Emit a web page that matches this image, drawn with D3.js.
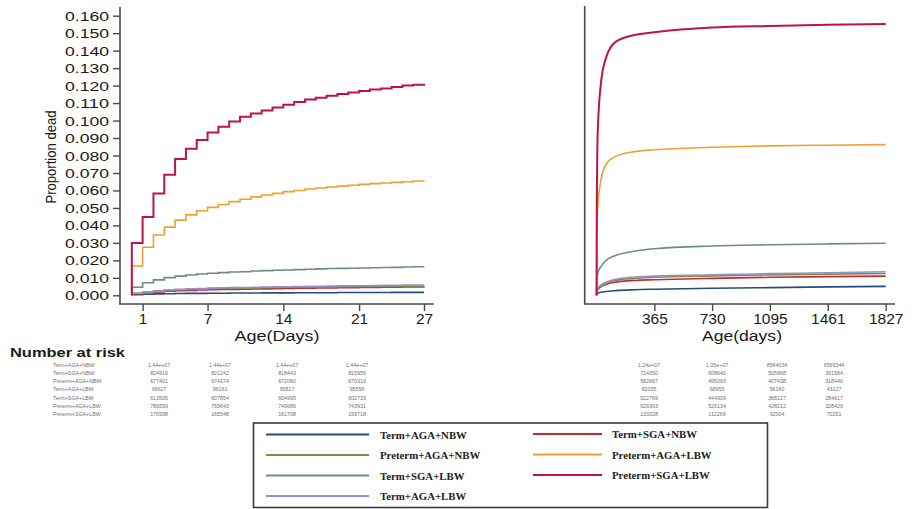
<!DOCTYPE html>
<html>
<head>
<meta charset="utf-8">
<script src="https://cdn.jsdelivr.net/npm/d3@7"></script>
<style>
  html, body { margin: 0; padding: 0; background: #fff; }
  svg { display: block; }
</style>
</head>
<body>
<svg id="chart" width="912" height="509" font-family="'Liberation Sans', Arial, sans-serif"></svg>
<script>
// Cumulative proportion dead by birth group: neonatal period (days 0-27) and under-five (days 0-1827)
const groups = ["Term+AGA+NBW", "Term+SGA+NBW", "Preterm+AGA+NBW", "Term+AGA+LBW",
                "Term+SGA+LBW", "Preterm+AGA+LBW", "Preterm+SGA+LBW"];
const groupColors = ["#264d78", "#c22c38", "#7b8f3e", "#958fd0", "#6f8a88", "#f0a02c", "#c0124a"];

// Daily step values, day 0 .. day 27
const neoDays = d3.range(0, 28);
const neoTermAgaNbw    = [0.0004,0.0006,0.0008,0.0009,0.0010,0.0011,0.0011,0.0012,0.0012,0.0013,0.0013,0.0013,0.0014,0.0014,0.0014,0.0015,0.0015,0.0015,0.0015,0.0016,0.0016,0.0016,0.0016,0.0016,0.0017,0.0017,0.0017,0.0017];
const neoTermSgaNbw    = [0.0009,0.0015,0.0019,0.0023,0.0026,0.0028,0.0030,0.0032,0.0033,0.0034,0.0035,0.0036,0.0037,0.0038,0.0039,0.0040,0.0041,0.0042,0.0042,0.0043,0.0044,0.0045,0.0045,0.0046,0.0047,0.0048,0.0048,0.0049];
const neoPretAgaNbw    = [0.0011,0.0018,0.0024,0.0028,0.0032,0.0035,0.0037,0.0039,0.0040,0.0041,0.0042,0.0043,0.0044,0.0045,0.0046,0.0046,0.0047,0.0048,0.0048,0.0049,0.0049,0.0050,0.0050,0.0051,0.0051,0.0052,0.0052,0.0052];
const neoTermAgaLbw    = [0.0012,0.0019,0.0025,0.0030,0.0034,0.0037,0.0039,0.0041,0.0043,0.0044,0.0045,0.0046,0.0047,0.0048,0.0049,0.0050,0.0051,0.0052,0.0053,0.0054,0.0055,0.0055,0.0056,0.0057,0.0057,0.0058,0.0058,0.0059];
const neoTermSgaLbw    = [0.0046,0.0072,0.0088,0.0101,0.0110,0.0116,0.0122,0.0126,0.0130,0.0133,0.0135,0.0139,0.0141,0.0143,0.0145,0.0147,0.0149,0.0151,0.0153,0.0154,0.0155,0.0156,0.0158,0.0159,0.0160,0.0162,0.0163,0.0164];
const neoPretAgaLbw    = [0.0168,0.0275,0.0345,0.0390,0.0430,0.0460,0.0484,0.0503,0.0520,0.0536,0.0550,0.0563,0.0574,0.0583,0.0593,0.0600,0.0608,0.0614,0.0620,0.0625,0.0630,0.0635,0.0639,0.0643,0.0646,0.0650,0.0654,0.0656];
const neoPretSgaLbw    = [0.0300,0.0448,0.0583,0.0690,0.0780,0.0839,0.0889,0.0932,0.0965,0.0995,0.1022,0.1041,0.1058,0.1075,0.1090,0.1106,0.1120,0.1130,0.1142,0.1152,0.1160,0.1169,0.1177,0.1184,0.1192,0.1200,0.1205,0.1210];

// Under-five curves, sampled days
const longDays = [0, 1, 7, 27, 60, 120, 240, 365, 730, 1095, 1461, 1827];
const longTermAgaNbw = [0, 0.0006, 0.0012, 0.0017, 0.0022, 0.0027, 0.0032, 0.0035, 0.0040, 0.0044, 0.0048, 0.0051];
const longTermSgaNbw = [0, 0.0015, 0.0032, 0.0049, 0.0062, 0.0075, 0.0085, 0.0089, 0.0097, 0.0103, 0.0107, 0.0110];
const longPretAgaNbw = [0, 0.0018, 0.0039, 0.0052, 0.0068, 0.0085, 0.0097, 0.0103, 0.0111, 0.0117, 0.0121, 0.0125];
const longTermAgaLbw = [0, 0.0019, 0.0041, 0.0059, 0.0075, 0.0092, 0.0105, 0.0110, 0.0118, 0.0124, 0.0129, 0.0135];
const longTermSgaLbw = [0, 0.0072, 0.0126, 0.0164, 0.0200, 0.0228, 0.0252, 0.0266, 0.0282, 0.0289, 0.0294, 0.0298];
const longPretAgaLbw = [0, 0.0275, 0.0503, 0.0656, 0.0750, 0.0795, 0.0822, 0.0833, 0.0847, 0.0855, 0.0859, 0.0862];
const longPretSgaLbw = [0, 0.0448, 0.0932, 0.1210, 0.1360, 0.1450, 0.1490, 0.1505, 0.1532, 0.1541, 0.1548, 0.1553];

const neoSeries  = [neoTermAgaNbw, neoTermSgaNbw, neoPretAgaNbw, neoTermAgaLbw, neoTermSgaLbw, neoPretAgaLbw, neoPretSgaLbw];
const longSeries = [longTermAgaNbw, longTermSgaNbw, longPretAgaNbw, longTermAgaLbw, longTermSgaLbw, longPretAgaLbw, longPretSgaLbw];

// Axis ticks
const yTicks = [0, 0.01, 0.02, 0.03, 0.04, 0.05, 0.06, 0.07, 0.08, 0.09, 0.10, 0.11, 0.12, 0.13, 0.14, 0.15, 0.16];
const neoTicks = [1, 7, 14, 21, 27];
const longTicks = [365, 730, 1095, 1461, 1827];

// Number at risk tables
const riskLabels = ["Term+AGA+NBW", "Term+SGA+NBW", "Preterm+AGA+NBW", "Term+AGA+LBW",
                    "Term+SGA+LBW", "Preterm+AGA+LBW", "Preterm+SGA+LBW"];
const riskNeo = [
  ["1.44e+07", "1.44e+07", "1.44e+07", "1.44e+07"],
  ["824916", "821242", "818443", "815955"],
  ["677401", "674174", "672060", "670319"],
  ["96627", "96161", "95817", "95556"],
  ["613595", "607854", "604995", "602733"],
  ["786559", "759643", "749686", "743931"],
  ["176598", "165548", "161708", "159718"]
];
const riskLong = [
  ["1.24e+07", "1.05e+07", "8564034", "6569344"],
  ["714350", "608640", "505968", "391584"],
  ["582667", "495093", "407438", "318446"],
  ["82035", "68955", "56160", "43127"],
  ["522769", "444909", "368127", "284617"],
  ["629393", "526134", "428212", "328429"],
  ["133328", "112269", "92004", "70251"]
];

// Legend layout: two columns
const legendCol1 = ["Term+AGA+NBW", "Preterm+AGA+NBW", "Term+SGA+LBW", "Term+AGA+LBW"];
const legendCol2 = ["Term+SGA+NBW", "Preterm+AGA+LBW", "Preterm+SGA+LBW"];

const svg = d3.select("#chart");
const colorOf = d3.scaleOrdinal().domain(groups).range(groupColors);
const axisColor = "#4a4a4a";
const sans = "'Liberation Sans', Arial, sans-serif";
const serif = "'Liberation Serif', 'Times New Roman', serif";

// Scales
const y = d3.scaleLinear().domain([0, 0.16]).range([295.3, 15.7]);
const xNeo = d3.scaleLinear().domain([0, 27]).range([131.8, 424]);
const xLong = d3.scaleLinear().domain([0, 1827]).range([596.6, 885.7]);

function stretch(sel, w) {
  sel.attr("textLength", w).attr("lengthAdjust", "spacingAndGlyphs");
}

// ---------- Left panel: neonatal ----------
const left = svg.append("g");
left.append("line").attr("x1", 120).attr("x2", 120).attr("y1", 7).attr("y2", 304.5)
  .attr("stroke", axisColor).attr("stroke-width", 1.6);
left.append("line").attr("x1", 119.2).attr("x2", 434).attr("y1", 304).attr("y2", 304)
  .attr("stroke", axisColor).attr("stroke-width", 1.6);

const yAxisL = left.append("g").attr("transform", "translate(120,0)")
  .call(d3.axisLeft(y).tickValues(yTicks).tickSize(7).tickSizeOuter(0).tickFormat(d3.format(".3f")));
yAxisL.attr("font-family", sans);
yAxisL.select(".domain").remove();
yAxisL.selectAll(".tick line").attr("stroke", axisColor).attr("stroke-width", 1.4);
yAxisL.selectAll(".tick text").attr("x", -11).attr("dy", "0.36em")
  .attr("font-size", 12.5).attr("fill", "#1a1a1a")
  .call(stretch, 44);

const xAxisL = left.append("g").attr("transform", "translate(0,304)")
  .call(d3.axisBottom(xNeo).tickValues(neoTicks).tickSize(7).tickSizeOuter(0));
xAxisL.attr("font-family", sans);
xAxisL.select(".domain").remove();
xAxisL.selectAll(".tick line").attr("stroke", axisColor).attr("stroke-width", 1.4);
xAxisL.selectAll(".tick text").attr("y", 8.5).attr("font-size", 15.5).attr("fill", "#1a1a1a");

left.append("text").attr("x", 277).attr("y", 341).attr("text-anchor", "middle")
  .attr("font-size", 15.5).attr("fill", "#1a1a1a").text("Age(Days)").call(stretch, 85);

left.append("text")
  .attr("transform", "translate(56,157) rotate(-90)")
  .attr("text-anchor", "middle").attr("font-size", 14.5).attr("fill", "#1a1a1a")
  .text("Proportion dead").call(stretch, 93);

// step curves (jump from zero at day 0)
const stepLine = d3.line().x(d => xNeo(d[0])).y(d => y(d[1])).curve(d3.curveStepAfter);
neoSeries.forEach((vals, i) => {
  const pts = [[0, 0]].concat(neoDays.map((d, k) => [d, vals[k]]));
  left.append("path").attr("d", stepLine(pts)).attr("fill", "none")
    .attr("stroke", colorOf(groups[i])).attr("stroke-width", i === 6 ? 2 : 1.6);
});

// ---------- Right panel: under five ----------
const right = svg.append("g");
right.append("line").attr("x1", 584.7).attr("x2", 584.7).attr("y1", 6).attr("y2", 304.5)
  .attr("stroke", axisColor).attr("stroke-width", 1.6);
right.append("line").attr("x1", 584).attr("x2", 895).attr("y1", 304).attr("y2", 304)
  .attr("stroke", axisColor).attr("stroke-width", 1.6);

const xAxisR = right.append("g").attr("transform", "translate(0,304)")
  .call(d3.axisBottom(xLong).tickValues(longTicks).tickSize(7).tickSizeOuter(0).tickFormat(d3.format("d")));
xAxisR.attr("font-family", sans);
xAxisR.select(".domain").remove();
xAxisR.selectAll(".tick line").attr("stroke", axisColor).attr("stroke-width", 1.4);
xAxisR.selectAll(".tick text").attr("y", 8.5).attr("font-size", 15.5).attr("fill", "#1a1a1a");

right.append("text").attr("x", 742).attr("y", 341).attr("text-anchor", "middle")
  .attr("font-size", 15.5).attr("fill", "#1a1a1a").text("Age(days)").call(stretch, 80);

const smoothLine = d3.line().x(d => xLong(d[0])).y(d => y(d[1])).curve(d3.curveMonotoneX);
longSeries.forEach((vals, i) => {
  const pts = longDays.map((d, k) => [d, vals[k]]);
  right.append("path").attr("d", smoothLine(pts)).attr("fill", "none")
    .attr("stroke", colorOf(groups[i])).attr("stroke-width", i === 6 ? 2 : 1.6);
});

// ---------- Number at risk ----------
svg.append("text").attr("x", 10).attr("y", 356.5).attr("font-size", 13.5)
  .attr("font-weight", "bold").attr("fill", "#1a1a1a").text("Number at risk").call(stretch, 115);

const riskG = svg.append("g").attr("font-size", 5.3).attr("fill", "#707070");
const rowY = d3.scalePoint().domain(riskLabels).range([366.5, 416.3]);
const neoColX = [159, 220, 287, 357];
const longColX = [649, 717, 777, 834];
riskLabels.forEach((lab, r) => {
  riskG.append("text").attr("x", 53).attr("y", rowY(lab)).text(lab);
  riskNeo[r].forEach((v, c) => {
    riskG.append("text").attr("x", neoColX[c]).attr("y", rowY(lab))
      .attr("text-anchor", "middle").text(v);
  });
  riskLong[r].forEach((v, c) => {
    riskG.append("text").attr("x", longColX[c]).attr("y", rowY(lab))
      .attr("text-anchor", "middle").text(v);
  });
});

// ---------- Legend ----------
const legend = svg.append("g");
legend.append("rect").attr("x", 253.5).attr("y", 423).attr("width", 514).attr("height", 84.5)
  .attr("fill", "#fff").attr("stroke", "#3a3a3a").attr("stroke-width", 1.6);

function legendItem(name, x1, x2, tx, yy) {
  legend.append("line").attr("x1", x1).attr("x2", x2).attr("y1", yy).attr("y2", yy)
    .attr("stroke", colorOf(name)).attr("stroke-width", 1.8);
  legend.append("text").attr("x", tx).attr("y", yy + 4)
    .attr("font-family", serif)
    .attr("font-size", 10.8).attr("font-weight", "bold").attr("fill", "#222").text(name);
}
const legRows1 = [434.5, 455, 475.5, 496];
const legRows2 = [434, 454.5, 475];
legendCol1.forEach((n, i) => legendItem(n, 266, 369, 380, legRows1[i]));
legendCol2.forEach((n, i) => legendItem(n, 533, 602, 612, legRows2[i]));
</script>
</body>
</html>
